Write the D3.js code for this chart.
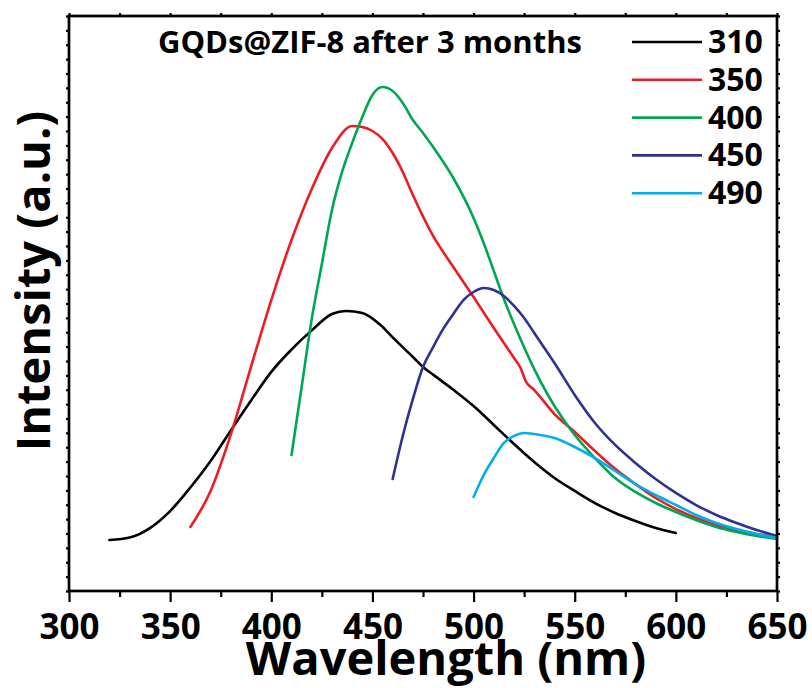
<!DOCTYPE html>
<html>
<head>
<meta charset="utf-8">
<script src="https://cdn.jsdelivr.net/npm/d3@7"></script>
<style>
  body { margin: 0; background: #fff; }
  text { font-family: "Open Sans", "Liberation Sans", sans-serif; font-weight: 700; }
</style>
</head>
<body>
<div id="viz"></div>
<script>
const title = 'GQDs@ZIF-8 after 3 months',
    seriesNames = ['310', '350', '400', '450', '490'],
    seriesColors = ['#000000', '#ed1c24', '#00a651', '#2e3192', '#00aeef'],
    xTicks = [300, 350, 400, 450, 500, 550, 600, 650];

// excitation 310 nm
const wl310 = [320, 330, 340, 350, 360, 370, 380, 390, 400, 410, 420, 430, 437, 445, 454, 460, 470, 475, 480, 490, 500, 510, 520, 530, 540, 550, 560, 570, 580, 590, 600];
const int310 = [355, 372, 438, 556, 720, 904, 1117, 1325, 1524, 1680, 1813, 1927, 1948, 1934, 1850, 1764, 1628, 1558, 1505, 1400, 1287, 1155, 1023, 897, 786, 696, 612, 543, 487, 438, 403];

// excitation 350 nm
const wl350 = [360, 370, 380, 390, 400, 410, 420, 430, 440, 445, 450, 455, 460, 465, 470, 480, 490, 500, 510, 520, 523, 526, 530, 540, 550, 560, 570, 580, 590, 600, 610, 620, 630, 640, 650];
const int350 = [445, 696, 1089, 1561, 2024, 2442, 2797, 3082, 3235, 3228, 3200, 3144, 3047, 2915, 2755, 2470, 2254, 2045, 1830, 1621, 1558, 1454, 1398, 1231, 1106, 974, 850, 744, 647, 570, 508, 459, 424, 397, 376];

// excitation 400 nm
const wl400 = [410, 415, 420, 425, 430, 435, 440, 445, 450, 455, 460, 465, 470, 475, 480, 490, 500, 505, 510, 515, 520, 530, 540, 550, 560, 570, 580, 590, 600, 610, 620, 630, 640, 650];
const int400 = [946, 1419, 1892, 2275, 2651, 2915, 3117, 3298, 3451, 3506, 3478, 3395, 3277, 3186, 3089, 2873, 2595, 2421, 2226, 2031, 1857, 1544, 1287, 1085, 925, 786, 689, 612, 550, 494, 445, 410, 383, 362];

// excitation 450 nm
const wl450 = [460, 465, 470, 475, 480, 485, 490, 495, 500, 505, 510, 515, 520, 525, 530, 535, 540, 550, 560, 570, 580, 590, 600, 610, 620, 630, 640, 650];
const int450 = [779, 1078, 1336, 1558, 1697, 1823, 1927, 2024, 2080, 2108, 2094, 2052, 1983, 1899, 1795, 1691, 1586, 1364, 1169, 1016, 891, 779, 682, 598, 529, 473, 424, 383];

// excitation 490 nm
const wl490 = [500, 505, 510, 515, 520, 525, 530, 540, 550, 560, 570, 580, 590, 600, 610, 620, 630, 640, 650];
const int490 = [654, 807, 925, 1030, 1078, 1099, 1092, 1064, 1002, 925, 835, 744, 668, 598, 529, 473, 431, 397, 369];

const wlData = [wl310, wl350, wl400, wl450, wl490],
    intData = [int310, int350, int400, int450, int490];

const svg = d3.select('#viz')
    .append('svg')
    .attr('width', 812)
    .attr('height', 688);

const margin = {top: 16, right: 35, bottom: 97, left: 69},
    width = 812 - margin.left - margin.right,
    height = 688 - margin.top - margin.bottom;

const xScale = d3.scaleLinear()
    .domain([300, 650])
    .range([0, width]);

const yScale = d3.scaleLinear()
    .domain([0, 4000])
    .range([height, 0]);

const g = svg.append('g')
    .attr("transform", "translate(" + margin.left + "," + margin.top + ")");

const line = d3.line()
    .x(function(d) { return xScale(d[0]); })
    .y(function(d) { return yScale(d[1]); })
    .curve(d3.curveMonotoneX);

seriesNames.forEach(function(name, i) {
    const pts = wlData[i].map(function(w, j) { return [w, intData[i][j]]; });
    g.append('path')
        .datum(pts)
        .attr('fill', 'none')
        .attr('stroke', seriesColors[i])
        .attr('stroke-width', 2.6)
        .attr('stroke-linejoin', 'round')
        .attr('stroke-linecap', 'round')
        .attr('d', line);
});

// axes
const minorX = d3.range(325, 650, 50),
    yTickVals = d3.range(0, 4001, 100),
    topTickVals = d3.range(300, 651, 25);

const xAxis = g.append('g')
    .attr("transform", "translate(0," + height + ")")
    .call(d3.axisBottom(xScale).tickValues(xTicks).tickSize(11).tickPadding(4).tickFormat(d3.format('d')));

xAxis.selectAll('text')
    .attr('font-size', 35)
    .attr('fill', '#000')
    .attr('dy', '0.95em');

g.append('g')
    .attr("transform", "translate(0," + height + ")")
    .call(d3.axisBottom(xScale).tickValues(minorX).tickSize(6).tickFormat(''));

g.append('g')
    .call(d3.axisTop(xScale).tickValues(topTickVals).tickSize(3).tickFormat(''));

g.append('g')
    .call(d3.axisLeft(yScale).tickValues(yTickVals).tickSize(3).tickFormat(''));

g.append('g')
    .attr("transform", "translate(" + width + ",0)")
    .call(d3.axisRight(yScale).tickValues(yTickVals).tickSize(3).tickFormat(''));

g.selectAll('.domain').remove();
g.selectAll('.tick line')
    .attr('stroke', '#000')
    .attr('stroke-width', 2.2);

g.append('rect')
    .attr('x', 0)
    .attr('y', 0)
    .attr('width', width)
    .attr('height', height)
    .attr('fill', 'none')
    .attr('stroke', '#000')
    .attr('stroke-width', 2.7);

// title and legend
g.append('text')
    .attr('x', 89)
    .attr('y', 37)
    .attr('font-size', 31)
    .text(title);

const legend = g.selectAll('.legend')
    .data(seriesNames)
    .enter().append('g')
    .attr('class', 'legend')
    .attr("transform", function(d, i) { return "translate(563," + (26 + i * 37.8) + ")"; });

legend.append('line')
    .attr('x1', 0)
    .attr('x2', 70)
    .attr('stroke', function(d, i) { return seriesColors[i]; })
    .attr('stroke-width', 2.6);

legend.append('text')
    .attr('x', 76)
    .attr('y', 11)
    .attr('font-size', 32)
    .text(function(d) { return d; });

// axis titles
svg.append('text')
    .attr('x', 446)
    .attr('y', 675)
    .attr('text-anchor', 'middle')
    .attr('font-size', 47)
    .text('Wavelength (nm)');

svg.append('text')
    .attr("transform", "translate(50,281) rotate(-90)")
    .attr('text-anchor', 'middle')
    .attr('font-size', 47)
    .text('Intensity (a.u.)');
</script>
</body>
</html>
